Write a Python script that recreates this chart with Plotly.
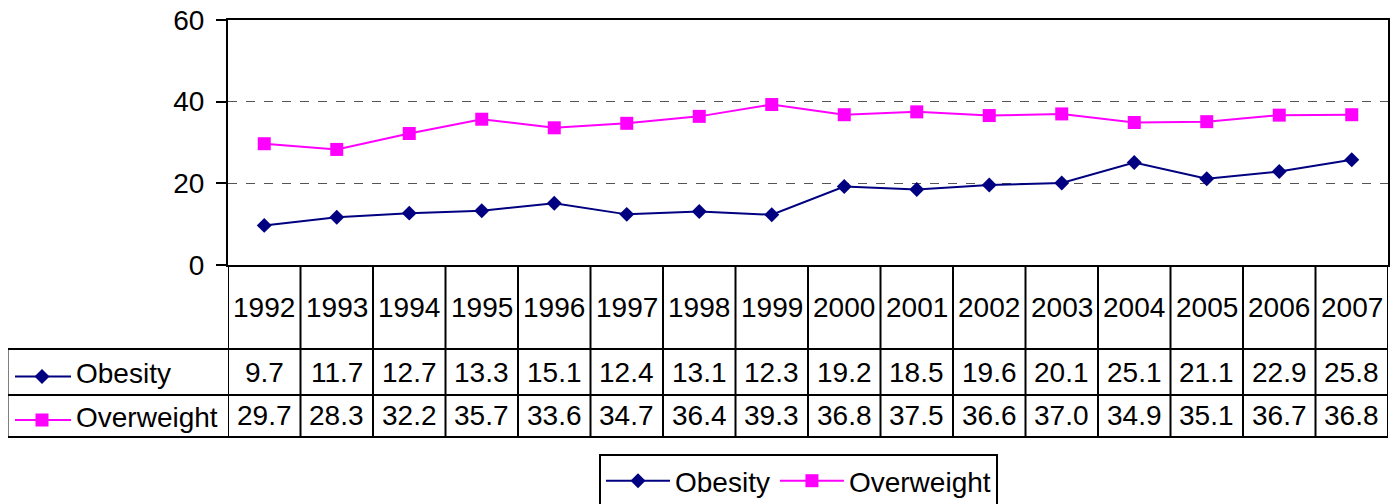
import plotly.graph_objects as go

years = list(range(1992, 2008))
obesity = [9.7, 11.7, 12.7, 13.3, 15.1, 12.4, 13.1, 12.3, 19.2, 18.5, 19.6, 20.1, 25.1, 21.1, 22.9, 25.8]
overweight = [29.7, 28.3, 32.2, 35.7, 33.6, 34.7, 36.4, 39.3, 36.8, 37.5, 36.6, 37.0, 34.9, 35.1, 36.7, 36.8]
series_names = ["Obesity", "Overweight"]

OFF = 8  # page body margin of the browser
W, H = 1399 - OFF, 504 - OFF
# plot area in screen pixels of the reference
SL, SR, ST, SB = 228, 1388, 20, 265
L, R, T, B = SL - OFF, SR - OFF, ST - OFF, SB - OFF
FONT = "Liberation Sans, Arial, sans-serif"
FS = 28
NAVY = "#000080"
MAG = "#FF00FF"


def py(p):  # screen pixel y -> paper y
    return (SB - p) / (SB - ST)


def px(p):  # screen pixel x -> paper x
    return (p - SL) / (SR - SL)


fig = go.Figure()
fig.add_trace(go.Scatter(x=years, y=obesity, name=series_names[0], mode="lines+markers",
                         line=dict(color=NAVY, width=2),
                         marker=dict(symbol="diamond", size=11.5, color=NAVY)))
fig.add_trace(go.Scatter(x=years, y=overweight, name=series_names[1], mode="lines+markers",
                         line=dict(color=MAG, width=2),
                         marker=dict(symbol="square", size=13, color=MAG)))

shapes = []
ann = []
row_top, row_mid, row_bot = 349, 395, 437
left_px = 7.5
# table vertical lines at category boundaries
for i in range(len(years) + 1):
    xv = years[0] - 0.5 + i
    shapes.append(dict(type="line", xref="x", yref="paper", x0=xv, x1=xv,
                       y0=0, y1=py(row_bot), line=dict(color="black", width=2)))
# table horizontal lines
for yy in (row_top, row_mid, row_bot):
    shapes.append(dict(type="line", xref="paper", yref="paper", x0=px(left_px), x1=1,
                       y0=py(yy), y1=py(yy), line=dict(color="black", width=2)))
shapes.append(dict(type="line", xref="paper", yref="paper", x0=px(left_px), x1=px(left_px),
                   y0=py(row_top), y1=py(row_bot), line=dict(color="black", width=2)))

# header years
for yr in years:
    ann.append(dict(x=yr, y=py(307), xref="x", yref="paper", text=str(yr), showarrow=False,
                    font=dict(family=FONT, size=FS, color="black"), xanchor="center", yanchor="middle"))
rows = [(obesity, 372.5), (overweight, 416)]
for vals, yc in rows:
    for yr, v in zip(years, vals):
        ann.append(dict(x=yr, y=py(yc), xref="x", yref="paper", text=f"{v:.1f}", showarrow=False,
                        font=dict(family=FONT, size=FS, color="black"), xanchor="center", yanchor="middle"))

# row labels with legend keys
keys = [(series_names[0], 372.5, NAVY, "diamond"), (series_names[1], 416, MAG, "square")]
for name, yc, col, sym in keys:
    ky = yc + 4
    shapes.append(dict(type="line", xref="paper", yref="paper", x0=px(15), x1=px(71),
                       y0=py(ky), y1=py(ky), line=dict(color=col, width=2)))
    cx = 42
    if sym == "diamond":
        d = 7.5
        path = (f"M{px(cx-d)},{py(ky)} L{px(cx)},{py(ky-d)} L{px(cx+d)},{py(ky)} "
                f"L{px(cx)},{py(ky+d)} Z")
    else:
        d = 6.5
        path = (f"M{px(cx-d)},{py(ky-d)} L{px(cx+d)},{py(ky-d)} L{px(cx+d)},{py(ky+d)} "
                f"L{px(cx-d)},{py(ky+d)} Z")
    shapes.append(dict(type="path", xref="paper", yref="paper", path=path,
                       fillcolor=col, line=dict(color=col, width=0)))
    ann.append(dict(x=px(74), y=py(yc + 1), xref="paper", yref="paper", text=name, showarrow=False,
                    font=dict(family=FONT, size=FS, color="black"), xanchor="left", yanchor="middle"))

fig.update_layout(
    width=W, height=H,
    margin=dict(l=L, r=W - R, t=T, b=H - B, pad=0, autoexpand=False),
    paper_bgcolor="white", plot_bgcolor="white",
    font=dict(family=FONT, size=FS, color="black"),
    shapes=shapes, annotations=ann,
    showlegend=True,
    legend=dict(orientation="h", xref="container", yref="container",
                x=(798.5 - OFF) / W, xanchor="center", y=1 - (454 - OFF) / H, yanchor="top",
                bordercolor="black", borderwidth=2, bgcolor="white",
                font=dict(family=FONT, size=FS, color="black"),
                itemwidth=64, tracegroupgap=0),
    xaxis=dict(range=[years[0] - 0.5, years[-1] + 0.5], showgrid=False, zeroline=False,
               showticklabels=False, ticks="", showline=True, linecolor="black", linewidth=2,
               mirror=True, fixedrange=True, automargin=False),
    yaxis=dict(range=[0, 60], dtick=20, tick0=0, showgrid=True, gridcolor="#555555",
               griddash="dash", gridwidth=1, zeroline=False, ticks="outside", ticklen=10,
               tickwidth=2, tickcolor="black", showline=True, linecolor="black", linewidth=2,
               mirror=True, ticklabelstandoff=6, tickfont=dict(family=FONT, size=FS),
               ticklabeloverflow="allow", automargin=False),
)

fig.write_html("out.html")
